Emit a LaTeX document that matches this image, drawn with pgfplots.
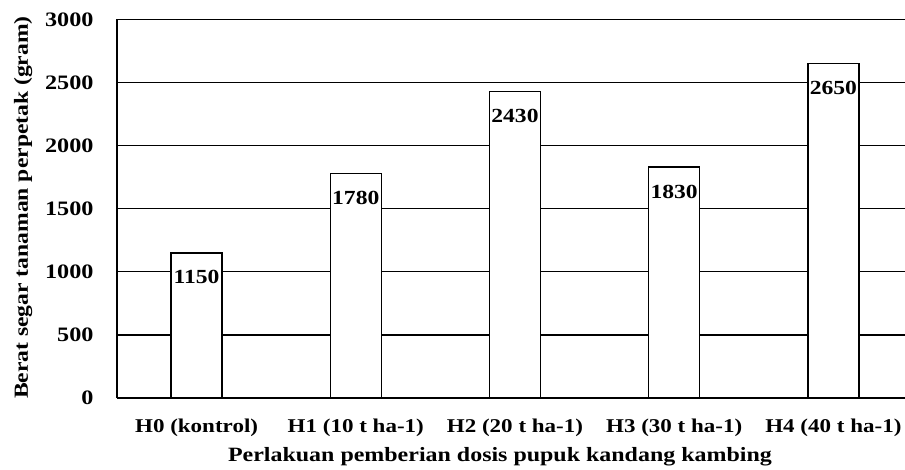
\documentclass[border=0pt]{standalone}
\usepackage{fontspec}
\setmainfont{Liberation Serif}[FakeStretch=1.18]
\usepackage{pgfplots}
\pgfplotsset{compat=1.18}

\begin{document}
\begin{tikzpicture}[x=1pt,y=1pt]
  \path[use as bounding box] (0,0) rectangle (905,469);
  \begin{axis}[
      at={(117pt,71pt)}, anchor=south west,
      scale only axis,
      width=788pt, height=378.5pt,
      xmin=-0.5, xmax=4.45,
      ymin=0, ymax=3000,
      ytick={0,500,...,3000},
      xtick={0,...,4},
      xticklabels={H0 (kontrol),H1 (10 t ha-1),H2 (20 t ha-1),H3 (30 t ha-1),H4 (40 t ha-1)},
      axis x line*=bottom, axis y line*=left,
      axis line style={line width=1.3pt,-},
      major tick length=0pt,
      ymajorgrids,
      grid style={black,line width=1.2pt},
      /pgf/number format/1000 sep={},
      /pgf/number format/assume math mode=true,
      yticklabel style={font=\fontsize{20.5}{22}\selectfont\bfseries},
      xticklabel style={font=\fontsize{19.5}{22}\selectfont\bfseries},
      yticklabel shift=20pt,
      xticklabel shift=17pt,
      xlabel={Perlakuan pemberian dosis pupuk kandang kambing},
      ylabel={Berat segar tanaman perpetak (gram)},
      xlabel style={at={(axis description cs:0.486,-0.169)},anchor=base,
        font=\fontsize{20.3}{22}\selectfont\bfseries},
      ylabel style={at={(axis description cs:-0.119,0.503)},anchor=center,
        font=\fontsize{20}{22}\selectfont\bfseries},
      ybar, bar width=51pt,
      nodes near coords={\pgfmathprintnumber\pgfplotspointmeta},
      nodes near coords style={anchor=north,inner sep=0pt,yshift=-17pt,
        font=\fontsize{20}{22}\selectfont\bfseries},
    ]
    \addplot[draw=black,fill=white,line width=1.3pt] coordinates {
      (0,1150) (1,1780) (2,2430) (3,1830) (4,2650)
    };
  \end{axis}
\end{tikzpicture}
\end{document}
